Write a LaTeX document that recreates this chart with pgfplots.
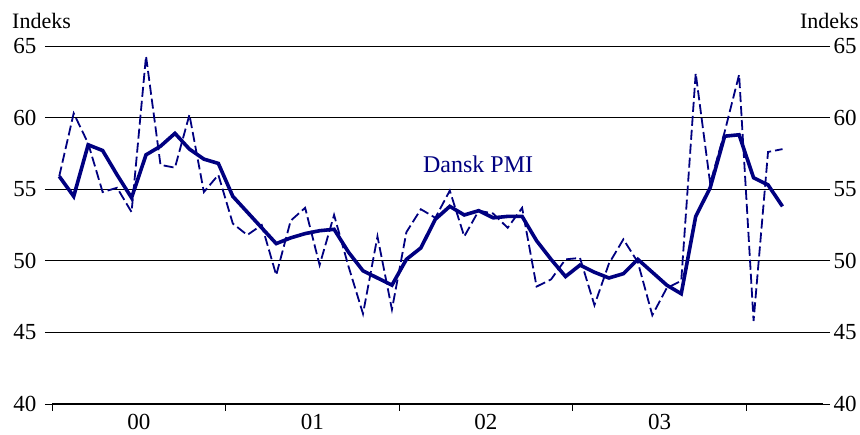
\documentclass[border=0pt]{standalone}
\usepackage{fontspec}
\setmainfont{Liberation Serif}
\usepackage{pgfplots}
\usepackage{pgfplotstable}
\pgfplotsset{compat=1.18}
\definecolor{pmiblue}{RGB}{0,0,128}

% month index + 0.5, smoothed PMI, monthly PMI
\pgfplotstableread{
x    smooth raw
0.5  55.9 55.9
1.5  54.5 60.3
2.5  58.1 58.2
3.5  57.7 54.8
4.5  56.0 55.1
5.5  54.4 53.4
6.5  57.4 64.3
7.5  58.0 56.7
8.5  58.9 56.5
9.5  57.8 60.2
10.5 57.1 54.8
11.5 56.8 56.0
12.5 54.5 52.6
13.5 53.4 51.8
14.5 52.3 52.5
15.5 51.2 49.0
16.5 51.6 52.8
17.5 51.9 53.7
18.5 52.1 49.7
19.5 52.2 53.2
20.5 50.6 49.6
21.5 49.3 46.3
22.5 48.8 51.7
23.5 48.3 46.6
24.5 50.1 52.0
25.5 50.9 53.6
26.5 52.9 53.0
27.5 53.8 54.9
28.5 53.2 51.7
29.5 53.5 53.5
30.5 53.0 53.3
31.5 53.1 52.3
32.5 53.1 53.7
33.5 51.4 48.2
34.5 50.1 48.7
35.5 48.9 50.1
36.5 49.7 50.2
37.5 49.2 46.9
38.5 48.8 49.8
39.5 49.1 51.5
40.5 50.1 49.9
41.5 49.2 46.2
42.5 48.3 48.1
43.5 47.7 48.6
44.5 53.1 63.1
45.5 55.1 55.4
46.5 58.7 59.0
47.5 58.8 63.0
48.5 55.8 45.8
49.5 55.3 57.6
50.5 53.8 57.8
}\pmidata

\begin{document}
\begin{tikzpicture}
\pgfplotsset{
  common/.style={
    at={(52pt,31pt)}, anchor=south west,
    scale only axis, width=771pt, height=358pt,
    xmin=0, xmax=53.3, ymin=40, ymax=65,
    ytick={40,45,...,65},
    tick align=outside,
    major tick length=7pt,
    tick style={black, line width=0.8pt},
    /pgf/number format/assume math mode=true,
    ticklabel style={font=\fontsize{23}{23}\selectfont},
  }
}
\begin{axis}[
  common,
  axis x line*=bottom, axis y line*=left,
  y axis line style={draw=none},
  x axis line style={black, line width=1.6pt},
  xtick={0,12,24,36,48}, xticklabels={},
  extra x ticks={6,18,30,42},
  extra x tick labels={00,01,02,03},
  extra x tick style={major tick length=0pt, grid=none},
  xticklabel style={yshift=-7pt},
  yticklabel style={xshift=-5pt},
  ymajorgrids,
  grid style={black, line width=0.8pt},
  clip=false,
]
\addplot[pmiblue, line width=1.8pt, dash pattern=on 10pt off 4pt] table[x=x, y=raw] {\pmidata};
\addplot[pmiblue, line width=3.6pt] table[x=x, y=smooth] {\pmidata};
\node[pmiblue, font=\fontsize{24}{24}\selectfont] at (axis cs:29.46,56.76) {Dansk PMI};
\end{axis}
\begin{axis}[
  common,
  hide x axis,
  axis y line*=right,
  y axis line style={draw=none},
]
\end{axis}
\node[anchor=base west, font=\fontsize{22}{22}\selectfont, inner sep=0pt] at (12pt,406pt) {Indeks};
\node[anchor=base east, font=\fontsize{22}{22}\selectfont, inner sep=0pt] at (859pt,406pt) {Indeks};
\pgfresetboundingbox
\path[use as bounding box] (0,0) rectangle (860pt,435pt);
\end{tikzpicture}
\end{document}
